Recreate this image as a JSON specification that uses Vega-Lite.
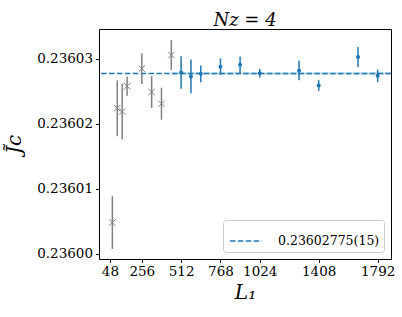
{
  "$schema": "https://vega.github.io/schema/vega-lite/v6.json",
  "width": 292,
  "height": 230,
  "autosize": {"type": "none"},
  "padding": {"left": 99, "top": 29, "right": 11, "bottom": 58},
  "background": "white",
  "config": {
    "view": {"stroke": "black", "strokeWidth": 1},
    "axis": {
      "grid": false,
      "domain": false,
      "tickColor": "black",
      "tickSize": 3.5,
      "tickWidth": 1,
      "labelFont": "DejaVu Serif",
      "labelFontSize": 13.5,
      "labelColor": "black",
      "titleFont": "DejaVu Serif",
      "titleFontSize": 20,
      "titleFontStyle": "italic",
      "titleFontWeight": "normal",
      "titleColor": "black"
    },
    "title": {"font": "DejaVu Serif", "fontSize": 18, "fontStyle": "italic", "fontWeight": "normal", "color": "black", "offset": -1}
  },
  "title": {"text": "Nz = 4"},
  "datasets": {
    "gray": [
      {"L": 64, "J": 0.2360048, "err": 0.00000405},
      {"L": 96, "J": 0.2360224, "err": 0.0000043},
      {"L": 128, "J": 0.2360219, "err": 0.0000043},
      {"L": 160, "J": 0.2360258, "err": 0.00000146},
      {"L": 256, "J": 0.2360285, "err": 0.00000236},
      {"L": 320, "J": 0.2360249, "err": 0.00000246},
      {"L": 384, "J": 0.2360231, "err": 0.00000246},
      {"L": 448, "J": 0.2360306, "err": 0.0000023}
    ],
    "blue": [
      {"L": 512, "J": 0.2360279, "err": 0.0000025},
      {"L": 576, "J": 0.2360273, "err": 0.0000026},
      {"L": 640, "J": 0.2360277, "err": 0.00000128},
      {"L": 768, "J": 0.2360288, "err": 0.00000128},
      {"L": 896, "J": 0.2360291, "err": 0.00000128},
      {"L": 1024, "J": 0.2360278, "err": 0.00000067},
      {"L": 1280, "J": 0.2360282, "err": 0.0000015},
      {"L": 1408, "J": 0.2360259, "err": 0.00000082},
      {"L": 1664, "J": 0.2360303, "err": 0.00000154},
      {"L": 1792, "J": 0.2360274, "err": 0.00000097}
    ],
    "band": [
      {"x0": 448, "x1": 1879, "lo": 0.2360276, "hi": 0.2360279}
    ],
    "fit": [
      {"J": 0.23602775, "label": "0.23602775(15)"}
    ]
  },
  "encoding": {
    "x": {
      "field": "L",
      "type": "quantitative",
      "scale": {"domain": [-23, 1879], "nice": false, "zero": false},
      "axis": {"values": [48, 256, 512, 768, 1024, 1408, 1792], "format": "d", "labelPadding": 2, "titlePadding": 4, "title": "L₁"}
    },
    "y": {
      "field": "J",
      "type": "quantitative",
      "scale": {"domain": [0.2359992, 0.2360346], "nice": false, "zero": false},
      "axis": {"values": [0.236, 0.23601, 0.23602, 0.23603], "format": ".5f", "labelPadding": 3, "titlePadding": 12, "title": "J̃c"}
    }
  },
  "layer": [
    {
      "data": {"name": "band"},
      "mark": {"type": "rect", "color": "#1f77b4", "opacity": 0.3},
      "encoding": {
        "x": {"field": "x0", "type": "quantitative"},
        "x2": {"field": "x1"},
        "y": {"field": "lo", "type": "quantitative"},
        "y2": {"field": "hi"}
      }
    },
    {
      "data": {"name": "fit"},
      "mark": {"type": "rule", "strokeDash": [5.5, 2.4], "strokeWidth": 1.5},
      "encoding": {
        "x": null,
        "y": {"field": "J", "type": "quantitative"},
        "color": {
          "field": "label",
          "type": "nominal",
          "scale": {"range": ["#1f77b4"]},
          "legend": {
            "title": null,
            "orient": "bottom-right",
            "offset": 7,
            "symbolType": "stroke",
            "symbolSize": 1024,
            "symbolStrokeWidth": 1.5,
            "symbolDash": [5.5, 2.4],
            "symbolOffset": 2,
            "labelFont": "DejaVu Serif",
            "labelFontSize": 12.5,
            "labelColor": "black",
            "labelOffset": 15,
            "padding": 4,
            "fillColor": "white",
            "strokeColor": "#cccccc",
            "cornerRadius": 3
          }
        }
      }
    },
    {
      "data": {"name": "gray"},
      "mark": {"type": "errorbar", "color": "#808080", "thickness": 1.5},
      "encoding": {
        "y": {"field": "J", "type": "quantitative"},
        "yError": {"field": "err"}
      }
    },
    {
      "data": {"name": "blue"},
      "mark": {"type": "errorbar", "color": "#1f77b4", "thickness": 1.5},
      "encoding": {
        "y": {"field": "J", "type": "quantitative"},
        "yError": {"field": "err"}
      }
    },
    {
      "data": {"name": "gray"},
      "mark": {"type": "point", "shape": "M-1,-1L1,1M-1,1L1,-1", "filled": false, "stroke": "#808080", "strokeWidth": 1, "size": 40, "opacity": 1}
    },
    {
      "data": {"name": "blue"},
      "mark": {"type": "point", "shape": "circle", "filled": true, "color": "#1f77b4", "size": 16, "opacity": 1}
    }
  ]
}
